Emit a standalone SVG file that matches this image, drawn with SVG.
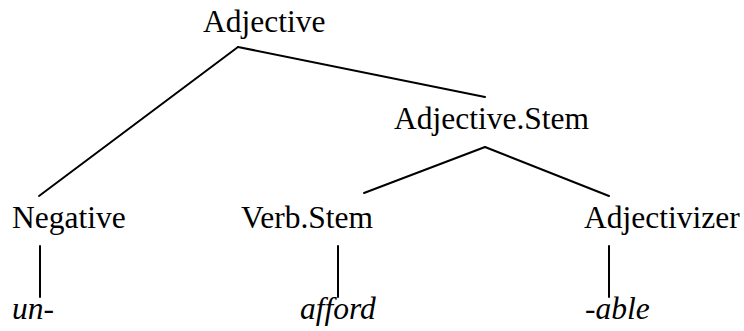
<svg xmlns="http://www.w3.org/2000/svg" width="744" height="331" viewBox="0 0 744 331">
<style>
text{font-family:"Liberation Serif","Times New Roman",serif;font-size:31.5px;fill:#000}
.it{font-style:italic}
#connectors line{stroke:#000;stroke-width:2;stroke-linecap:round}
</style>
<rect width="744" height="331" fill="#fff"/>
<g id="connectors">
<line x1="238" y1="47" x2="39" y2="196"/>
<line x1="238" y1="47" x2="485" y2="97"/>
<line x1="485" y1="147" x2="364" y2="193"/>
<line x1="485" y1="147" x2="609" y2="196"/>
<line x1="40" y1="246" x2="40" y2="297"/>
<line x1="338" y1="246" x2="338" y2="297"/>
<line x1="609" y1="246" x2="609" y2="297"/>
</g>
<g id="adjective"><text x="203" y="32">Adjective</text></g>
<g id="adjective-stem"><text x="394" y="129">Adjective.Stem</text></g>
<g id="negative"><text x="12" y="228">Negative</text></g>
<g id="verb-stem"><text x="241" y="228">Verb.Stem</text></g>
<g id="adjectivizer"><text x="584" y="228">Adjectivizer</text></g>
<g id="un"><text class="it" x="12" y="319">un-</text></g>
<g id="afford"><text class="it" x="300" y="319">afford</text></g>
<g id="able"><text class="it" x="585" y="319">-able</text></g>
</svg>
